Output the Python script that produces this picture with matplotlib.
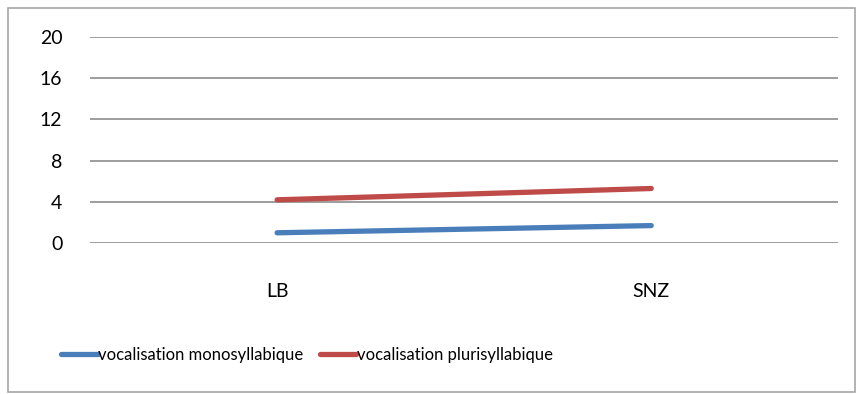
import matplotlib.pyplot as plt
from matplotlib.patches import Rectangle

categories = ['LB', 'SNZ']
mono = [1.0, 1.7]
pluri = [4.2, 5.3]
yticks = [0, 4, 8, 12, 16, 20]

plt.rcParams['font.family'] = ['Lato', 'DejaVu Sans']

fig = plt.figure(figsize=(8.58, 3.94), dpi=100)
ax = fig.add_axes([0.105, 0.383, 0.872, 0.523])

x = range(len(categories))
ax.plot(x, mono, color='#4A7EBB', lw=3.8, solid_capstyle='round',
        label='vocalisation monosyllabique')
ax.plot(x, pluri, color='#BE4B48', lw=3.8, solid_capstyle='round',
        label='vocalisation plurisyllabique')

ax.set_xlim(-0.5, 1.5)
ax.set_ylim(0, 20)
ax.set_yticks(yticks)
ax.set_xticks(list(x))
ax.set_xticklabels(categories)
ax.yaxis.grid(True, color='#8c8c8c', lw=1.2)
ax.set_axisbelow(True)
for s in ax.spines.values():
    s.set_visible(False)
ax.tick_params(axis='both', length=0, labelsize=14, colors='black')
ax.tick_params(axis='y', pad=20)
ax.tick_params(axis='x', pad=29)

fig.legend(loc='center left', bbox_to_anchor=(0.071, 0.1), ncol=2, frameon=False,
           fontsize=12, handlelength=2.2, handletextpad=0.05, columnspacing=0.95,
           borderpad=0, borderaxespad=0)

fig.patches.append(Rectangle((0.009, 0.005), 0.988, 0.975, transform=fig.transFigure,
                             fill=False, edgecolor='#a6a6a6', lw=1.2))

fig.savefig('out.png', dpi=100)
